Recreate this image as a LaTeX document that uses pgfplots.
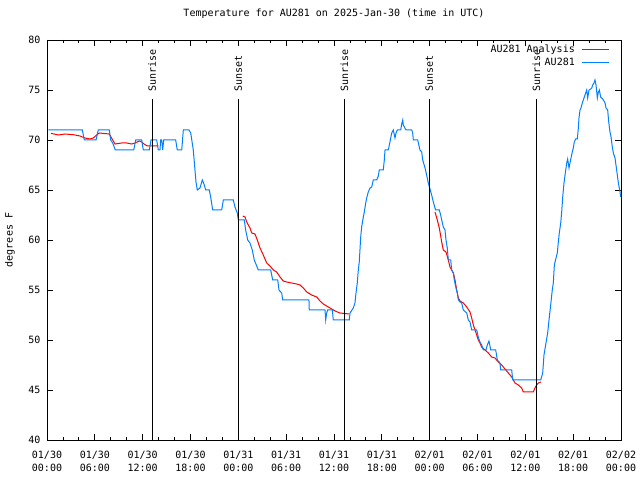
\documentclass[border=0pt]{standalone}
\usepackage{fontspec}
\setmainfont{DejaVu Sans Mono}
\usepackage{pgfplots}
\pgfplotsset{compat=1.18}
\definecolor{ablue}{RGB}{0,128,255}
\newcommand{\gf}{\fontsize{10bp}{12.5bp}\selectfont}
\begin{document}
\gf
\begin{tikzpicture}
\begin{axis}[
  scale only axis, width=574bp, height=400bp,
  xmin=0, xmax=72, ymin=40, ymax=80,
  xtick={0,6,...,72},
  xticklabels={{01/30\\00:00},{01/30\\06:00},{01/30\\12:00},{01/30\\18:00},{01/31\\00:00},{01/31\\06:00},{01/31\\12:00},{01/31\\18:00},{02/01\\00:00},{02/01\\06:00},{02/01\\12:00},{02/01\\18:00},{02/02\\00:00}},
  minor xtick={2,4,8,10,14,16,20,22,26,28,32,34,38,40,44,46,50,52,56,58,62,64,68,70},
  ytick={40,45,...,80},
  tick align=inside, xtick pos=both, ytick pos=both,
  major tick length=6bp, minor tick length=3bp,
  tick style={black, line width=0.8bp},
  axis line style={line width=0.9bp},
  /pgf/number format/assume math mode=true,
  tick label style={font=\gf},
  xticklabel style={align=center, yshift=-8bp},
  yticklabel style={xshift=-3bp},
  ylabel={degrees F},
  ylabel style={at={(axis description cs:-0.0645,0.5)}, anchor=center, font=\gf},
  title={Temperature for AU281 on 2025-Jan-30 (time in UTC)},
  title style={at={(axis description cs:0.5,1)}, anchor=base, yshift=17.5bp, font=\gf},
  unbounded coords=jump,
  legend plot pos=right,
  legend cell align=right,
  legend style={draw=none, fill=none, at={(1,1)}, anchor=north east, xshift=-8bp, yshift=-1bp, font=\gf, row sep=0bp},
  legend image code/.code={\path (0bp,0bp); \draw[#1] (5bp,0bp) -- (32bp,0bp);},
]
\addplot[red, line width=1bp] coordinates {
(0.50,70.67)(1.42,70.5)(2.26,70.6)(3.30,70.53)(4.14,70.4)(4.77,70.2)(5.39,70.1)(5.81,70.2)(6.23,70.5)(6.56,70.7)(7.81,70.6)(8.53,69.6)(9.37,69.7)(10.0,69.7)(10.62,69.6)(11.04,69.7)(11.58,69.9)(11.88,69.8)(12.17,69.6)(12.58,69.4)(13.96,69.4)
(14.5,nan)
(24.55,62.4)(24.84,62.3)(25.05,61.8)(25.46,61.2)(25.68,60.7)(26.09,60.6)(26.38,60)(26.72,59.2)(27.13,58.5)(27.56,57.7)(27.97,57.4)(28.39,57)(28.81,56.8)(29.23,56.3)(29.64,55.9)(30.07,55.8)(30.69,55.7)(31.32,55.6)(31.74,55.5)(32.15,55.2)(32.58,54.8)(33.20,54.5)(33.83,54.3)(34.24,53.9)(34.66,53.6)(35.08,53.4)(35.71,53.1)(36.13,52.9)(36.75,52.7)(37.92,52.6)
(40,nan)
(48.67,62.8)(48.96,62)(49.21,61.2)(49.51,59.8)(49.71,59)(50.05,58.8)(50.34,58)(50.55,57.3)(50.76,57)(50.97,56.7)(51.18,56)(51.39,55)(51.60,54.2)(51.81,53.9)(52.22,53.7)(52.65,53.3)(53.06,52.8)(53.27,52.2)(53.48,51.5)(53.69,51)(53.90,50.5)(54.10,50)(54.31,49.7)(54.52,49.3)(54.94,49)(55.36,48.7)(55.78,48.3)(56.20,48.2)(56.61,47.8)(57.04,47.5)(57.45,47.1)(57.87,46.7)(58.29,46.3)(58.70,45.7)(59.12,45.5)(59.54,45.2)(59.75,44.8)(61.00,44.8)(61.21,45.2)(61.42,45.5)(61.63,45.7)(61.96,45.8)
};
\addlegendentry{AU281 Analysis}
\addplot[ablue, line width=1bp] coordinates {
(0.16,71)(4.43,71)(4.68,70)(6.15,70)(6.43,71)(7.81,71)(7.99,70)(8.24,69.7)(8.57,69)(10.88,69)(11.13,70)(11.88,70)(12.08,69)(12.83,69)(13.05,70)(13.76,70)(13.96,69)(14.17,69)(14.26,70)(14.39,70)(14.51,69)(14.64,70)(16.14,70)(16.34,69)(16.90,69)(17.10,71)(17.81,71)(18.03,70.7)(18.35,69)(18.56,67)(18.69,65.8)(18.85,65)(19.19,65.2)(19.48,66)(19.69,65.6)(19.91,65)(20.36,65)(20.53,64.3)(20.78,63)(21.91,63)(22.12,64)(23.37,64)(23.58,63.3)(23.87,62.7)(24.0,62)(24.75,62)(24.92,61)(25.18,60)(25.46,59.7)(25.75,59)(26.0,58)(26.51,57)(28.06,57)(28.31,56)(28.94,56)(29.10,55)(29.44,54.7)(29.56,54)(32.86,54)(32.90,53)(34.87,53)(34.96,52)(35.08,52.7)(35.21,53)(35.79,53)(35.91,52)(37.92,52)(38.01,52.7)(38.42,53.2)(38.63,53.7)(38.76,54.7)(38.92,55.7)(39.05,57)(39.17,57.8)(39.35,60.3)(39.47,61.3)(39.68,62.3)(39.80,62.8)(39.98,63.7)(40.10,64.2)(40.30,64.8)(40.52,65.2)(40.73,65.3)(40.93,66)(41.36,66)(41.56,66.4)(41.68,67)(42.18,67)(42.31,68)(42.40,69)(42.81,69)(43.02,69.8)(43.24,70.7)(43.44,71)(43.65,70.2)(43.78,70.7)(43.94,71)(44.37,71)(44.49,71.6)(44.62,72)(44.69,71.5)(45.03,71)(45.75,71)(45.87,70.7)(45.95,70)(46.50,70)(46.58,69.7)(46.79,69)(47.0,68.8)(47.13,68)(47.42,67.2)(47.62,66.5)(47.83,65.7)(48.04,65.1)(48.25,64.5)(48.46,63.8)(48.67,63.2)(48.75,63)(49.21,63)(49.38,62.5)(49.51,62)(49.71,61.3)(49.92,61)(50.05,60)(50.21,59.2)(50.34,58)(50.64,58)(50.76,57)(50.97,56.7)(51.09,56)(51.30,55.2)(51.47,54.7)(51.60,54)(51.81,53.8)(52.02,53.7)(52.22,53)(52.65,52.7)(52.85,52)(53.06,51.8)(53.27,51)(53.90,51)(54.10,50.3)(54.31,49.8)(54.52,49.5)(54.73,49)(55.07,49)(55.23,49.5)(55.44,49.9)(55.66,49)(56.28,49)(56.49,48)(56.82,47.7)(56.91,47)(58.29,47)(58.42,46)(61.93,46)(62.18,46.7)(62.34,48.5)(62.59,49.7)(62.80,50.7)(63.01,52.3)(63.18,53.5)(63.38,55)(63.51,55.7)(63.64,57.5)(63.85,58.2)(64.01,58.7)(64.14,59.8)(64.26,60.7)(64.44,61.7)(64.56,62.8)(64.69,64.3)(64.85,65.7)(64.98,66.5)(65.19,67.7)(65.31,68.1)(65.48,67.2)(65.60,67.7)(65.73,68.2)(65.89,68.8)(66.02,69.2)(66.14,69.8)(66.32,70.1)(66.52,70.1)(66.65,71.2)(66.73,72.2)(66.86,73)(66.98,73.2)(67.15,73.7)(67.27,74)(67.40,74.3)(67.57,74.7)(67.70,75)(67.82,74.2)(67.99,75)(68.20,75.1)(68.33,75.2)(68.45,75.5)(68.61,75.7)(68.74,76)(68.87,75.5)(69.03,74.2)(69.16,74.8)(69.28,75)(69.45,74.3)(69.58,74.2)(69.79,74)(70.0,73.7)(70.12,73.2)(70.33,73)(70.46,71.8)(70.62,70.8)(70.75,70.3)(70.91,69.3)(71.04,68.7)(71.25,68.2)(71.37,67.5)(71.54,66.5)(71.67,65.7)(71.88,64.8)(71.96,64.3)
};
\addlegendentry{AU281}
% sunrise / sunset markers
\addplot[black, line width=0.9bp, forget plot] coordinates {(13.2,40)(13.2,74.1)};
\addplot[black, line width=0.9bp, forget plot] coordinates {(24.0,40)(24.0,74.1)};
\addplot[black, line width=0.9bp, forget plot] coordinates {(37.3,40)(37.3,74.1)};
\addplot[black, line width=0.9bp, forget plot] coordinates {(47.96,40)(47.96,74.1)};
\addplot[black, line width=0.9bp, forget plot] coordinates {(61.38,40)(61.38,74.1)};
\node[rotate=90, anchor=west, inner sep=0pt, font=\gf] at (axis cs:13.2,74.8) {Sunrise};
\node[rotate=90, anchor=west, inner sep=0pt, font=\gf] at (axis cs:24.0,74.8) {Sunset};
\node[rotate=90, anchor=west, inner sep=0pt, font=\gf] at (axis cs:37.3,74.8) {Sunrise};
\node[rotate=90, anchor=west, inner sep=0pt, font=\gf] at (axis cs:47.96,74.8) {Sunset};
\node[rotate=90, anchor=west, inner sep=0pt, font=\gf] at (axis cs:61.38,74.8) {Sunrise};
\end{axis}
\pgfresetboundingbox
\path (current axis.south west) ++(-47bp,-40bp) rectangle ++(640bp,480bp);
\end{tikzpicture}
\end{document}
